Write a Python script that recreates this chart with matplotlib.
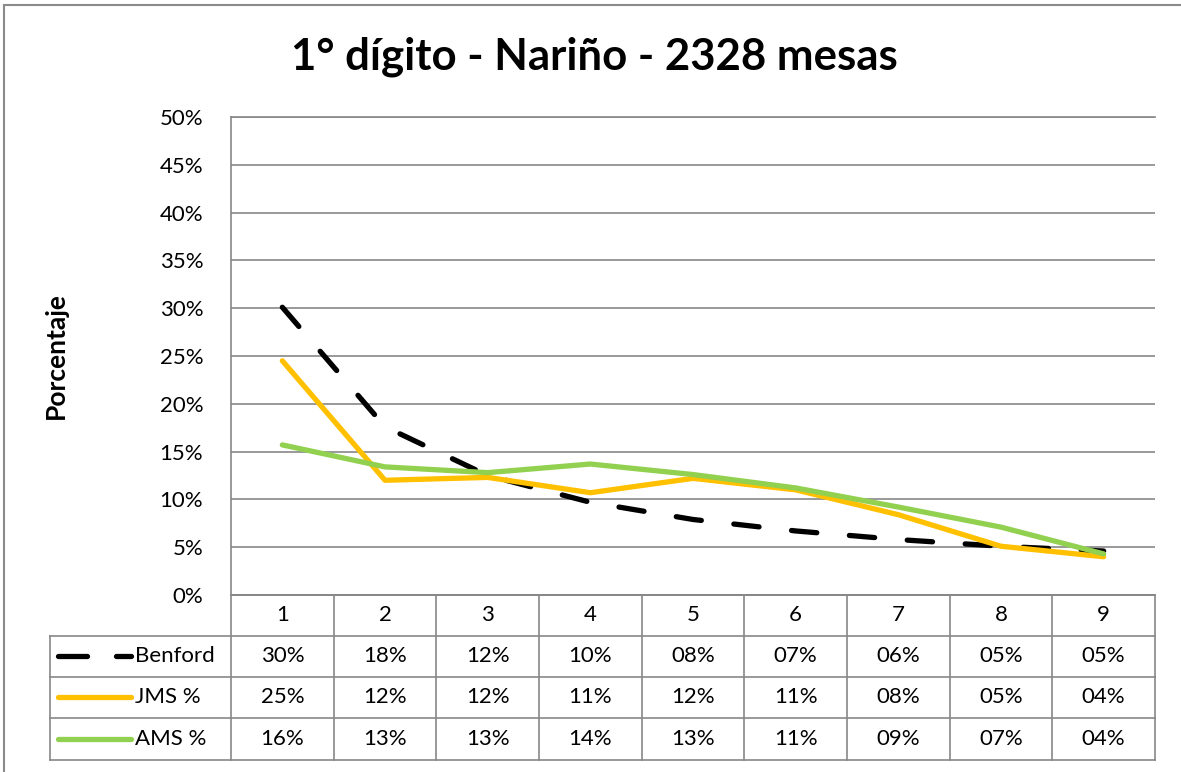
import matplotlib
matplotlib.use("Agg")
import matplotlib.pyplot as plt
from matplotlib.patches import Rectangle

plt.rcParams['font.family'] = ['Lato', 'DejaVu Sans']

# ---------------- data ----------------
title = "1° dígito - Nariño - 2328 mesas"
ylabel = "Porcentaje"
categories = ["1", "2", "3", "4", "5", "6", "7", "8", "9"]
series_names = ["Benford", "JMS %", "AMS %"]
benford = [30.1, 17.6, 12.5, 9.7, 7.9, 6.7, 5.8, 5.1, 4.6]
jms = [24.5, 12.0, 12.3, 10.7, 12.2, 11.0, 8.4, 5.1, 4.0]
ams = [15.7, 13.4, 12.8, 13.7, 12.6, 11.2, 9.2, 7.1, 4.3]
benford_lbl = ["30%", "18%", "12%", "10%", "08%", "07%", "06%", "05%", "05%"]
jms_lbl = ["25%", "12%", "12%", "11%", "12%", "11%", "08%", "05%", "04%"]
ams_lbl = ["16%", "13%", "13%", "14%", "13%", "11%", "09%", "07%", "04%"]
yticks = [0, 5, 10, 15, 20, 25, 30, 35, 40, 45, 50]
ytick_labels = ["0%", "5%", "10%", "15%", "20%", "25%", "30%", "35%", "40%", "45%", "50%"]

colors = ["#000000", "#FFC000", "#92D050"]
grid_c = "#878787"
FS = 16

W, H = 1181, 772
fig = plt.figure(figsize=(W / 100, H / 100), dpi=100)

# outer chart border (cropped at right/bottom)
fig.patches.append(Rectangle((4 / W, -0.05), 1.2, (H - 5) / H + 0.05,
                             transform=fig.transFigure, fill=False,
                             edgecolor="#8a8a8a", lw=1.5))

# plot area: px x 231..1155, y 117..595
L, R, T, B = 231, 1155, 117, 595
ax = fig.add_axes([L / W, (H - B) / H, (R - L) / W, (B - T) / H])
x = list(range(1, len(categories) + 1))
ax.set_xlim(0.5, len(categories) + 0.5)
ax.set_ylim(0, 50)

ax.set_yticks(yticks)
ax.set_yticklabels(ytick_labels, fontsize=FS)
ax.tick_params(axis='y', length=0, pad=20)
ax.set_xticks([])
ax.yaxis.grid(True, color=grid_c, lw=1.2)
ax.set_axisbelow(True)
ax.spines["right"].set_visible(False)
for s in ["left", "bottom", "top"]:
    ax.spines[s].set_color(grid_c)
    ax.spines[s].set_linewidth(1.2)

lw = 3.8
ax.plot(x, benford, color=colors[0], lw=lw, linestyle=(0, (4.8, 6.2)),
        dash_capstyle='round', solid_joinstyle='round', zorder=3)
ax.plot(x, jms, color=colors[1], lw=lw, solid_capstyle='round',
        solid_joinstyle='round', zorder=4)
ax.plot(x, ams, color=colors[2], lw=lw, solid_capstyle='round',
        solid_joinstyle='round', zorder=5)

ax.set_ylabel(ylabel, fontsize=19, fontweight='bold', labelpad=0)
ax.yaxis.set_label_coords((56 - L) / (R - L), 0.5)
ax.yaxis.label.set_va('center')

fig.text(594 / W, 1 - 57 / H, title, fontsize=31.5, fontweight='bold',
         ha='center', va='center')

# ---------------- data table ----------------
TL, TB = 50, 760
rows_y = [595, 636, 677, 718, 760]
tax = fig.add_axes([TL / W, (H - TB) / H, (R - TL) / W, (TB - B) / H])
unit = (R - L) / len(categories)
tax.set_xlim(0.5 - (L - TL) / unit, len(categories) + 0.5)
tax.set_ylim(TB, B)  # pixel rows, inverted
tax.axis('off')
xl = 0.5 - (L - TL) / unit
xr = len(categories) + 0.5

tax.plot([0.5, xr], [rows_y[0]] * 2, color=grid_c, lw=1.2, clip_on=False)
for yy in rows_y[1:]:
    tax.plot([xl, xr], [yy, yy], color=grid_c, lw=1.2, clip_on=False)
tax.plot([xl, xl], [rows_y[1], rows_y[-1]], color=grid_c, lw=1.2, clip_on=False)
for i in range(len(categories) + 1):
    xx = 0.5 + i
    tax.plot([xx, xx], [rows_y[0], rows_y[-1]], color=grid_c, lw=1.2, clip_on=False)

for xi, c in zip(x, categories):
    tax.text(xi, (rows_y[0] + rows_y[1]) / 2, c, ha='center', va='center', fontsize=FS)

labels = [benford_lbl, jms_lbl, ams_lbl]
for r, (name, lbls) in enumerate(zip(series_names, labels)):
    yc = (rows_y[r + 1] + rows_y[r + 2]) / 2
    for xi, t in zip(x, lbls):
        tax.text(xi, yc, t, ha='center', va='center', fontsize=FS)
    x0 = xl + (58 - TL) / unit
    x1 = xl + (131 - TL) / unit
    if r == 0:
        tax.plot([x0, xl + (87 - TL) / unit], [yc, yc], color=colors[r], lw=lw,
                 solid_capstyle='round', clip_on=False)
        tax.plot([xl + (116 - TL) / unit, x1], [yc, yc], color=colors[r], lw=lw,
                 solid_capstyle='round', clip_on=False)
    else:
        tax.plot([x0, x1], [yc, yc], color=colors[r], lw=lw,
                 solid_capstyle='round', clip_on=False)
    tax.text(xl + (135 - TL) / unit, yc, name, ha='left', va='center', fontsize=FS)

fig.savefig("out.png", dpi=100)
